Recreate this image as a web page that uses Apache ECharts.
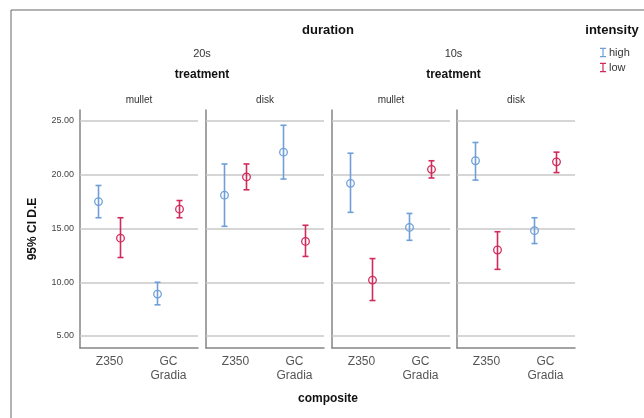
<!DOCTYPE html>
<html>
<head>
<meta charset="utf-8">
<script src="https://cdn.jsdelivr.net/npm/echarts@6/dist/echarts.min.js"></script>
<style>
  html, body { margin: 0; padding: 0; background: #fff; }
  #chart { width: 644px; height: 418px; }
</style>
</head>
<body>
<div id="chart"></div>
<script>
// composite categories on each x axis
var composites = ['Z350', 'GC\nGradia'];
// panels: [duration, treatment]
var durations = ['20s', '10s'];
var treatments = ['mullet', 'disk'];
var yTicks = [5, 10, 15, 20, 25];

// per panel (20s mullet, 20s disk, 10s mullet, 10s disk), per composite (Z350, GC Gradia)
var highMean  = [[17.5, 8.9],  [18.1, 22.1], [19.2, 15.1], [21.3, 14.8]];
var highLower = [[16.0, 7.9],  [15.2, 19.6], [16.5, 13.9], [19.5, 13.6]];
var highUpper = [[19.0, 10.0], [21.0, 24.6], [22.0, 16.4], [23.0, 16.0]];
var lowMean   = [[14.1, 16.8], [19.8, 13.8], [10.2, 20.5], [13.0, 21.2]];
var lowLower  = [[12.3, 16.0], [18.6, 12.4], [8.3, 19.7],  [11.2, 20.2]];
var lowUpper  = [[16.0, 17.6], [21.0, 15.3], [12.2, 21.3], [14.7, 22.1]];

var FONT = '"Liberation Sans", Arial, sans-serif';
var BLUE = '#6e9fd9';
var RED = '#d12a5c';
var gridLefts = [80, 206, 332, 457];
var gridW = 118;

function rows(mean, lower, upper, p) {
  var out = [];
  for (var i = 0; i < composites.length; i++) {
    out.push([i, lower[p][i], upper[p][i], mean[p][i]]);
  }
  return out;
}

function errItem(color, off) {
  return function (params, api) {
    var cat = api.value(0);
    var top = api.coord([cat, api.value(2)]);
    var bot = api.coord([cat, api.value(1)]);
    var mid = api.coord([cat, api.value(3)]);
    var x = top[0] + off;
    var st = { stroke: color, lineWidth: 1.6, fill: null };
    return {
      type: 'group',
      children: [
        { type: 'line', shape: { x1: x, y1: top[1], x2: x, y2: bot[1] }, style: st },
        { type: 'line', shape: { x1: x - 3, y1: top[1], x2: x + 3, y2: top[1] }, style: st },
        { type: 'line', shape: { x1: x - 3, y1: bot[1], x2: x + 3, y2: bot[1] }, style: st },
        { type: 'circle', shape: { cx: x, cy: mid[1], r: 3.8 }, style: { stroke: color, lineWidth: 1.3, fill: null } }
      ]
    };
  };
}

var grids = [], xAxes = [], yAxes = [], series = [];
for (var p = 0; p < 4; p++) {
  grids.push({ left: gridLefts[p], top: 110, width: gridW, height: 238 });
  xAxes.push({
    type: 'category', gridIndex: p, data: composites,
    axisLine: { lineStyle: { color: '#858585', width: 1.5 } },
    axisTick: { show: false },
    axisLabel: { color: '#555', fontSize: 12, fontFamily: FONT, lineHeight: 14, margin: 7, interval: 0 }
  });
  yAxes.push({
    type: 'value', gridIndex: p, min: 3.885, max: 26.02,
    splitLine: { show: false },
    axisTick: { show: false },
    axisLine: { show: true, lineStyle: { color: '#858585', width: 1.5 } },
    axisLabel: {
      show: p === 0, color: '#444', fontSize: 9, fontFamily: FONT, margin: 6,
      showMinLabel: false, showMaxLabel: false,
      formatter: function (v) { return yTicks.indexOf(v) >= 0 ? v.toFixed(2) : ''; }
    }
  });
  series.push({
    name: 'high', type: 'custom', xAxisIndex: p, yAxisIndex: p,
    itemStyle: { color: BLUE },
    renderItem: errItem(BLUE, -11),
    encode: { x: 0, y: [1, 2, 3] },
    data: rows(highMean, highLower, highUpper, p),
    z: 3,
    markLine: {
      silent: true, symbol: 'none', z: 1,
      label: { show: false },
      lineStyle: { color: '#c8c8c8', type: 'solid', width: 1.5 },
      data: yTicks.map(function (v) { return { yAxis: v }; })
    }
  });
  series.push({
    name: 'low', type: 'custom', xAxisIndex: p, yAxisIndex: p,
    itemStyle: { color: RED },
    renderItem: errItem(RED, 11),
    encode: { x: 0, y: [1, 2, 3] },
    data: rows(lowMean, lowLower, lowUpper, p),
    z: 3
  });
}

function txt(x, y, s, size, bold, extra) {
  var t = {
    type: 'text', x: x, y: y,
    style: {
      text: s, fontSize: size, fontFamily: FONT, fontWeight: bold ? 'bold' : 'normal',
      fill: bold ? '#111' : '#333', align: 'center', verticalAlign: 'middle'
    }
  };
  if (extra) Object.assign(t, extra);
  return t;
}

var graphics = [
  { type: 'rect', shape: { x: 11, y: 10, width: 700, height: 500 }, style: { fill: null, stroke: '#666', lineWidth: 1 } },
  txt(328, 30, 'duration', 13, true),
  txt(612, 30, 'intensity', 13, true),
  txt(328, 399, 'composite', 12, true),
  txt(33, 229, '95% CI D.E', 12, true, { rotation: Math.PI / 2 })
];
for (var d = 0; d < durations.length; d++) {
  var cx = (gridLefts[d * 2] + gridLefts[d * 2 + 1] + gridW) / 2;
  graphics.push(txt(cx, 54, durations[d], 11, false));
  graphics.push(txt(cx, 75, 'treatment', 12, true));
  for (var t = 0; t < treatments.length; t++) {
    graphics.push(txt(gridLefts[d * 2 + t] + gridW / 2, 100, treatments[t], 10, false));
  }
}

var chart = echarts.init(document.getElementById('chart'));
chart.setOption({
  animation: false,
  backgroundColor: '#fff',
  legend: {
    data: ['high', 'low'], orient: 'vertical', left: 595, top: 42,
    itemWidth: 6, itemHeight: 10, itemGap: 4,
    icon: 'path://M0,0h7v1.4h-2.8v8.2h2.8v1.4h-7v-1.4h2.8v-8.2h-2.8z',
    textStyle: { fontSize: 11, fontFamily: FONT, color: '#333', padding: [0, 0, 0, -2] },
    selectedMode: false
  },
  grid: grids,
  xAxis: xAxes,
  yAxis: yAxes,
  series: series,
  graphic: graphics
});
</script>
</body>
</html>
